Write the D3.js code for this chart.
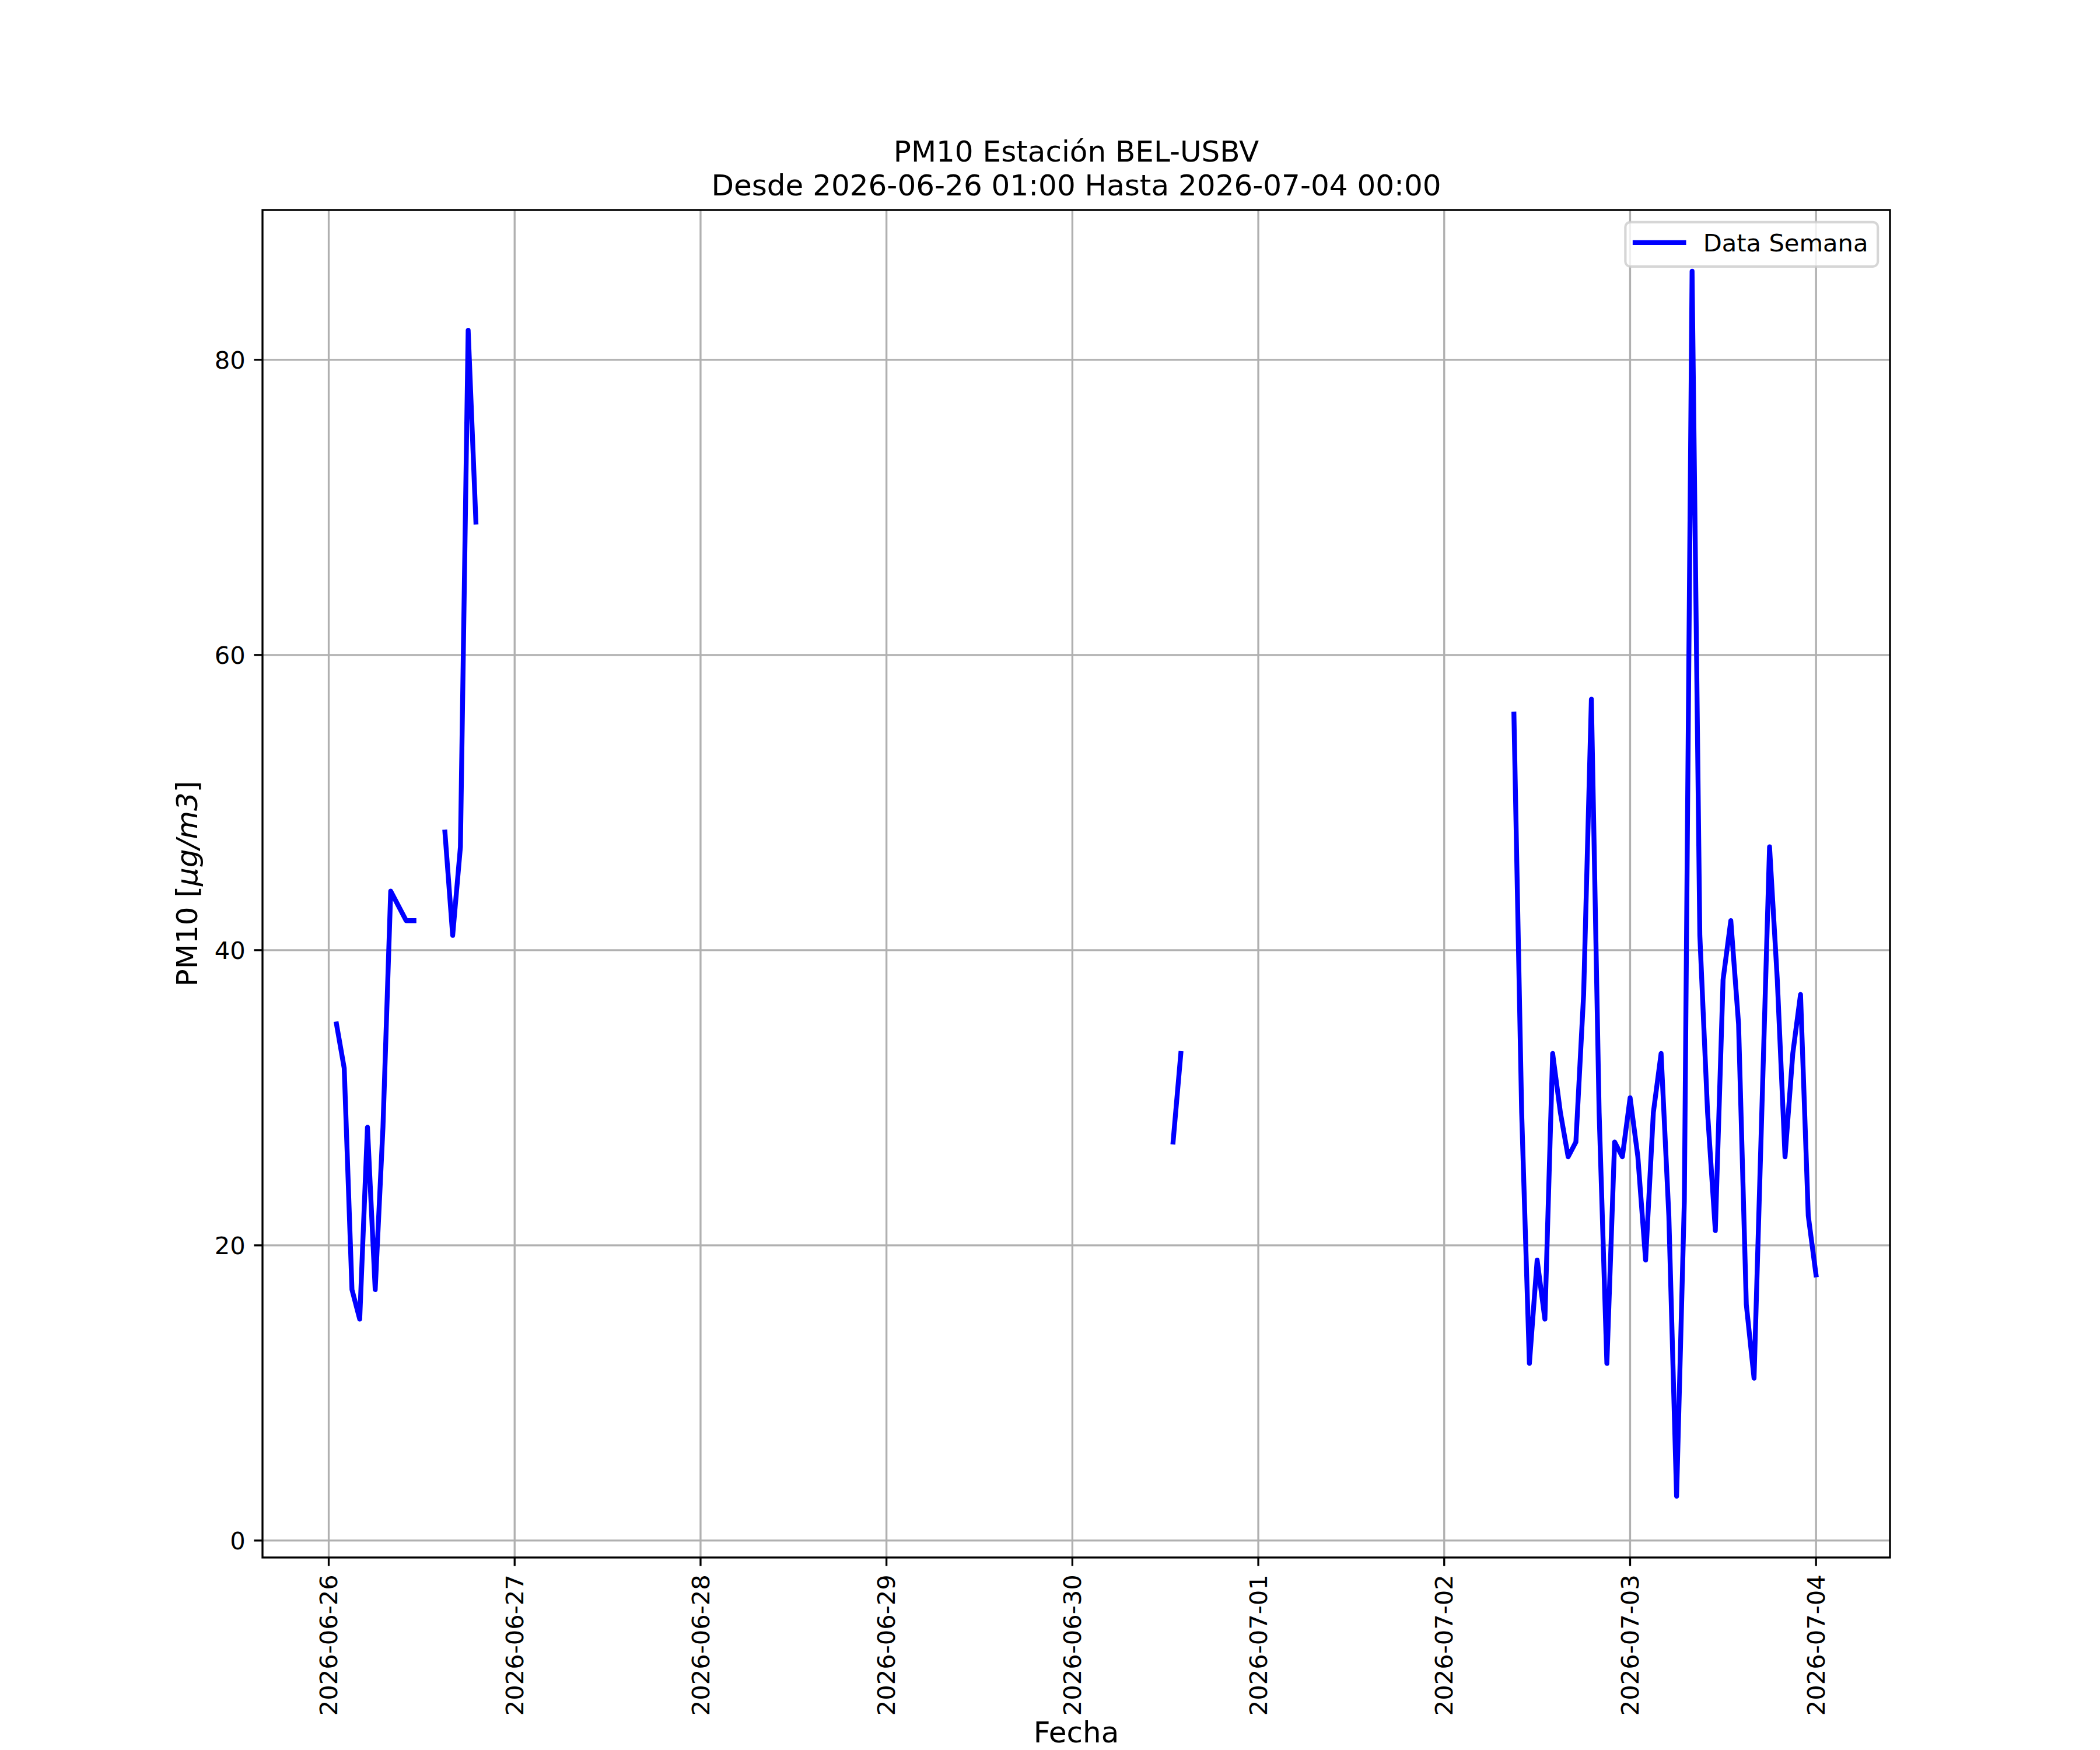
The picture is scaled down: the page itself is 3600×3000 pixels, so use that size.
<!DOCTYPE html>
<html>
<head>
<meta charset="utf-8">
<script src="https://cdn.jsdelivr.net/npm/d3@7"></script>
<style>
  body { margin: 0; background: #fff; }
  text { font-family: "DejaVu Sans", sans-serif; }
</style>
</head>
<body>
<script>
const width = 3600
const height = 3000

// Hourly PM10 readings, split where the station has no data
const seg1Start = "2026-06-26T01:00:00Z";
const seg1Values = [35, 32, 17, 15, 28, 17, 28, 44, 43, 42, 42];

const seg2Start = "2026-06-26T15:00:00Z";
const seg2Values = [48, 41, 47, 82, 69];

const seg3Start = "2026-06-30T13:00:00Z";
const seg3Values = [27, 33];

const seg4Start = "2026-07-02T09:00:00Z";
const seg4Values = [56, 29, 12, 19, 15, 33, 29, 26, 27, 37, 57, 29, 12, 27, 26,
                    30, 26, 19, 29, 33, 22, 3, 23, 86, 41, 29, 21, 38, 42, 35,
                    16, 11, 29, 47, 38, 26, 33, 37, 22, 18];

const dayTicks = ["2026-06-26", "2026-06-27", "2026-06-28", "2026-06-29", "2026-06-30",
                  "2026-07-01", "2026-07-02", "2026-07-03", "2026-07-04"];
const yTicks = [0, 20, 40, 60, 80];

const titleLines = ["PM10 Estación BEL-USBV", "Desde 2026-06-26 01:00 Hasta 2026-07-04 00:00"];
const legendLabel = "Data Semana";

const HOUR = 3600 * 1000;

// Build one series with null markers between the segments
function expand(start, values) {
    const t0 = new Date(start).getTime();
    return values.map((v, i) => ({ t: new Date(t0 + i * HOUR), v: v }));
}

let data = [];
[[seg1Start, seg1Values], [seg2Start, seg2Values], [seg3Start, seg3Values], [seg4Start, seg4Values]]
    .forEach((s, i) => {
        if (i > 0) data.push({ t: null, v: null });
        data = data.concat(expand(s[0], s[1]));
    });

const pts = data.filter(d => d.v != null);

const margin = { left: 450, right: 360, top: 360, bottom: 330 };
const plotW = width - margin.left - margin.right;
const plotH = height - margin.top - margin.bottom;

// matplotlib style 5% padding on the data range
const tExt = d3.extent(pts, d => d.t.getTime());
const tPad = (tExt[1] - tExt[0]) * 0.05;
const vExt = d3.extent(pts, d => d.v);
const vPad = (vExt[1] - vExt[0]) * 0.05;

const x = d3.scaleUtc()
    .domain([new Date(tExt[0] - tPad), new Date(tExt[1] + tPad)])
    .range([margin.left, margin.left + plotW]);

const y = d3.scaleLinear()
    .domain([vExt[0] - vPad, vExt[1] + vPad])
    .range([margin.top + plotH, margin.top]);

const svg = d3.select("body").append("svg")
    .attr("width", width)
    .attr("height", height);

svg.append("rect").attr("width", width).attr("height", height).attr("fill", "#fff");

const lw = 300 / 72;   // 1pt at 300 dpi
const tickFont = 10 * lw;
const labelFont = 12 * lw;

// Grid
const dayDates = dayTicks.map(d => new Date(d + "T00:00:00Z"));

svg.append("g").selectAll("line")
    .data(dayDates)
    .enter()
    .append("line")
    .attr("x1", d => x(d)).attr("x2", d => x(d))
    .attr("y1", margin.top).attr("y2", margin.top + plotH)
    .attr("stroke", "#b0b0b0")
    .attr("stroke-width", 0.8 * lw);

svg.append("g").selectAll("line")
    .data(yTicks)
    .enter()
    .append("line")
    .attr("x1", margin.left).attr("x2", margin.left + plotW)
    .attr("y1", d => y(d)).attr("y2", d => y(d))
    .attr("stroke", "#b0b0b0")
    .attr("stroke-width", 0.8 * lw);

// Data line
const line = d3.line()
    .defined(d => d.v != null)
    .x(d => x(d.t))
    .y(d => y(d.v));

svg.append("path")
    .datum(data)
    .attr("d", line)
    .attr("fill", "none")
    .attr("stroke", "#0000ff")
    .attr("stroke-width", 2 * lw)
    .attr("stroke-linejoin", "round")
    .attr("stroke-linecap", "square");

// Axes frame
svg.append("rect")
    .attr("x", margin.left).attr("y", margin.top)
    .attr("width", plotW).attr("height", plotH)
    .attr("fill", "none")
    .attr("stroke", "#000")
    .attr("stroke-width", 0.8 * lw);

const tickLen = 3.5 * lw;
const tickPad = 3.5 * lw;

// X ticks
const xt = svg.append("g");
xt.selectAll("line")
    .data(dayDates)
    .enter()
    .append("line")
    .attr("x1", d => x(d)).attr("x2", d => x(d))
    .attr("y1", margin.top + plotH).attr("y2", margin.top + plotH + tickLen)
    .attr("stroke", "#000")
    .attr("stroke-width", 0.8 * lw);

xt.selectAll("text")
    .data(dayDates)
    .enter()
    .append("text")
    .attr("transform", d => `translate(${x(d)},${margin.top + plotH + tickLen + tickPad}) rotate(-90)`)
    .attr("text-anchor", "end")
    .attr("dy", "0.35em")
    .attr("font-size", tickFont)
    .text(d => d3.utcFormat("%Y-%m-%d")(d));

// Y ticks
const yt = svg.append("g");
yt.selectAll("line")
    .data(yTicks)
    .enter()
    .append("line")
    .attr("x1", margin.left - tickLen).attr("x2", margin.left)
    .attr("y1", d => y(d)).attr("y2", d => y(d))
    .attr("stroke", "#000")
    .attr("stroke-width", 0.8 * lw);

yt.selectAll("text")
    .data(yTicks)
    .enter()
    .append("text")
    .attr("x", margin.left - tickLen - tickPad)
    .attr("y", d => y(d) + 0.364 * tickFont)
    .attr("text-anchor", "end")
    .attr("font-size", tickFont)
    .text(d => d);

// Axis labels
svg.append("text")
    .attr("x", margin.left + plotW / 2)
    .attr("y", 2987)
    .attr("text-anchor", "middle")
    .attr("font-size", labelFont)
    .text("Fecha");

const ylab = svg.append("text")
    .attr("transform", `translate(338,${margin.top + plotH / 2}) rotate(-90)`)
    .attr("text-anchor", "middle")
    .attr("font-size", labelFont);
ylab.append("tspan").text("PM10 [");
ylab.append("tspan").attr("font-style", "italic").text("μg/m3");
ylab.append("tspan").text("]");

// Title
svg.append("g").selectAll("text")
    .data(titleLines)
    .enter()
    .append("text")
    .attr("x", margin.left + plotW / 2)
    .attr("y", (d, i) => 277 + i * 58)
    .attr("text-anchor", "middle")
    .attr("font-size", labelFont)
    .text(d => d);

// Legend, upper right
const legend = svg.append("g");
const legBox = legend.append("rect");
const legLine = legend.append("line");
const legText = legend.append("text")
    .attr("font-size", tickFont)
    .text(legendLabel);

const pad = 0.5 * tickFont;
const textW = legText.node().getComputedTextLength();
const boxW = 0.4 * tickFont * 2 + 2 * tickFont + 0.8 * tickFont + textW;
const boxH = 76;
const boxX = margin.left + plotW - pad - boxW;
const boxY = margin.top + pad;

legBox
    .attr("x", boxX).attr("y", boxY)
    .attr("width", boxW).attr("height", boxH)
    .attr("rx", 0.2 * tickFont)
    .attr("fill", "#fff").attr("fill-opacity", 0.8)
    .attr("stroke", "#cccccc").attr("stroke-opacity", 0.8)
    .attr("stroke-width", lw);

const hx = boxX + 0.4 * tickFont;
legLine
    .attr("x1", hx).attr("x2", hx + 2 * tickFont)
    .attr("y1", boxY + 35).attr("y2", boxY + 35)
    .attr("stroke", "#0000ff")
    .attr("stroke-width", 2 * lw)
    .attr("stroke-linecap", "square");

legText
    .attr("x", hx + 2 * tickFont + 0.8 * tickFont)
    .attr("y", boxY + 50);
</script>
</body>
</html>
